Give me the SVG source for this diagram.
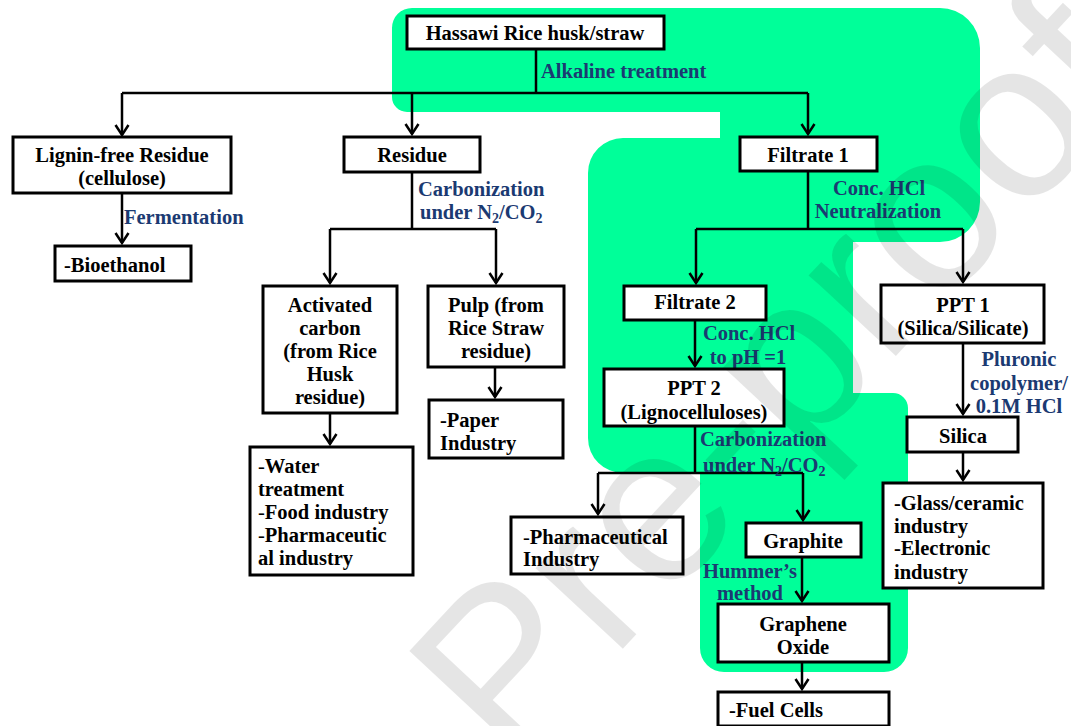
<svg xmlns="http://www.w3.org/2000/svg" width="1071" height="726" viewBox="0 0 1071 726">
<defs>
<style>
.box{fill:#fff;stroke:#000;stroke-width:3}
.t{font-family:'Liberation Serif','Times New Roman',Times,'DejaVu Serif',serif;font-weight:bold;font-size:20.5px;fill:#000}
.c{text-anchor:middle}
.lbl{fill:#1B3A72}
.ln{fill:none;stroke:#000;stroke-width:2.5}
.ar{marker-end:url(#ah)}
.n{font-weight:normal}
.wm{font-family:'Liberation Sans',Arial,sans-serif;font-size:225px;fill:#000;fill-opacity:0.1}
</style>
<marker id="ah" markerUnits="userSpaceOnUse" markerWidth="16" markerHeight="18" viewBox="-13 -9 16 18" refX="0" refY="0" orient="auto" overflow="visible">
<path d="M-10,-6.5 L0,0 L-10,6.5" fill="none" stroke="#000" stroke-width="2.5"/>
</marker>
</defs>

<path id="highlight" fill="#00FF99" d="M412,8 H940 A40,40 0 0 1 980,48 V202 A40,40 0 0 1 940,242 H853 V393 H893 A15,15 0 0 1 908,408 V648 A24,24 0 0 1 884,672 H724 A24,24 0 0 1 700,648 V473 H623 A35,35 0 0 1 588,438 V173 A35,35 0 0 1 623,138 H720 V112 H407 A15,15 0 0 1 392,97 V28 A20,20 0 0 1 412,8 Z"/>

<g id="connectors">
<path class="ln" d="M536,49 V93 M122,93 H808"/>
<path class="ln ar" d="M122,93 V135"/>
<path class="ln ar" d="M412,93 V134"/>
<path class="ln ar" d="M808,93 V134"/>
<path class="ln ar" d="M122,193 V243"/>
<path class="ln" d="M412,172 V229 M330,229 H496"/>
<path class="ln ar" d="M330,229 V283"/>
<path class="ln ar" d="M496,229 V283"/>
<path class="ln ar" d="M330,413 V444"/>
<path class="ln ar" d="M495,367 V397"/>
<path class="ln" d="M808,171 V229 M696,229 H963"/>
<path class="ln ar" d="M696,229 V283"/>
<path class="ln ar" d="M963,229 V282"/>
<path class="ln ar" d="M695,320 V366"/>
<path class="ln" d="M695,426 V473 M598,473 H803"/>
<path class="ln ar" d="M598,473 V514"/>
<path class="ln ar" d="M803,473 V520"/>
<path class="ln ar" d="M963,343 V414"/>
<path class="ln ar" d="M963,452 V480"/>
<path class="ln ar" d="M802,557 V601"/>
<path class="ln ar" d="M802,662 V689"/>
</g>

<g id="labels">
<text class="t lbl" x="541" y="78">Alkaline treatment</text>
<text class="t lbl" x="124" y="224">Fermentation</text>
<text class="t lbl" x="418" y="196">Carbonization</text>
<text class="t lbl" x="420" y="219">under N<tspan font-size="14" dy="4">2</tspan><tspan dy="-4">/CO</tspan><tspan font-size="14" dy="4">2</tspan></text>
<text class="t lbl c" x="879" y="195">Conc. HCl</text>
<text class="t lbl c" x="878" y="218">Neutralization</text>
<text class="t lbl c" x="749" y="340">Conc. HCl</text>
<text class="t lbl c" x="748" y="364">to pH =1</text>
<text class="t lbl" x="700" y="446">Carbonization</text>
<text class="t lbl" x="703" y="472">under N<tspan font-size="14" dy="4">2</tspan><tspan dy="-4">/CO</tspan><tspan font-size="14" dy="4">2</tspan></text>
<text class="t lbl c" x="1019" y="366">Pluronic</text>
<text class="t lbl c" x="1019" y="390">copolymer/</text>
<text class="t lbl c" x="1019" y="413">0.1M HCl</text>
<text class="t lbl c" x="750" y="578">Hummer’s</text>
<text class="t lbl c" x="750" y="600">method</text>
</g>

<g id="n-hassawi"><rect class="box" x="407" y="16" width="257" height="33"/><text class="t c" x="535" y="40">Hassawi Rice husk/straw</text></g>
<g id="n-lignin"><rect class="box" x="13" y="137" width="218" height="56"/><text class="t c" x="122" y="162">Lignin-free Residue</text><text class="t c" x="122" y="185">(cellulose)</text></g>
<g id="n-bioethanol"><rect class="box" x="55" y="246" width="136" height="35"/><text class="t" x="64" y="272">-Bioethanol</text></g>
<g id="n-residue"><rect class="box" x="344" y="137" width="136" height="35"/><text class="t c" x="412" y="162">Residue</text></g>
<g id="n-activated"><rect class="box" x="263" y="286" width="134" height="127"/>
<text class="t c" x="330" y="312">Activated</text><text class="t c" x="330" y="335">carbon</text><text class="t c" x="330" y="358">(from Rice</text><text class="t c" x="330" y="381">Husk</text><text class="t c" x="330" y="404">residue)</text></g>
<g id="n-pulp"><rect class="box" x="428" y="286" width="136" height="81"/>
<text class="t c" x="496" y="312">Pulp (from</text><text class="t c" x="496" y="335">Rice Straw</text><text class="t c" x="496" y="358">residue)</text></g>
<g id="n-paper"><rect class="box" x="429" y="400" width="134" height="58"/><text class="t" x="440" y="427">-Paper</text><text class="t" x="440" y="450">Industry</text></g>
<g id="n-water"><rect class="box" x="250" y="447" width="163" height="128"/>
<text class="t" x="258" y="473"><tspan class="n">-</tspan>Water</text><text class="t" x="258" y="496">treatment</text><text class="t" x="258" y="519"><tspan class="n">-</tspan>Food industry</text><text class="t" x="258" y="542"><tspan class="n">-</tspan>Pharmaceutic</text><text class="t" x="258" y="565">al industry</text></g>
<g id="n-filtrate1"><rect class="box" x="740" y="137" width="137" height="34"/><text class="t c" x="808" y="162">Filtrate 1</text></g>
<g id="n-filtrate2"><rect class="box" x="624" y="286" width="142" height="34"/><text class="t c" x="695" y="309">Filtrate 2</text></g>
<g id="n-ppt1"><rect class="box" x="881" y="285" width="163" height="58"/><text class="t c" x="963" y="312">PPT 1</text><text class="t c" x="963" y="335">(Silica/Silicate)</text></g>
<g id="n-ppt2"><rect class="box" x="604" y="369" width="180" height="57"/><text class="t c" x="694" y="395">PPT 2</text><text class="t c" x="694" y="419">(Lignocelluloses)</text></g>
<g id="n-silica"><rect class="box" x="907" y="417" width="111" height="35"/><text class="t c" x="963" y="443">Silica</text></g>
<g id="n-glass"><rect class="box" x="883" y="483" width="160" height="105"/>
<text class="t" x="894" y="510">-Glass/ceramic</text><text class="t" x="894" y="533">industry</text><text class="t" x="894" y="555">-Electronic</text><text class="t" x="894" y="579">industry</text></g>
<g id="n-pharma"><rect class="box" x="511" y="517" width="172" height="57"/><text class="t" x="523" y="544"><tspan class="n">-</tspan>Pharmaceutical</text><text class="t" x="523" y="566">Industry</text></g>
<g id="n-graphite"><rect class="box" x="746" y="523" width="115" height="34"/><text class="t c" x="803" y="548">Graphite</text></g>
<g id="n-graphene"><rect class="box" x="718" y="604" width="171" height="58"/><text class="t c" x="803" y="631">Graphene</text><text class="t c" x="803" y="654">Oxide</text></g>
<g id="n-fuel"><rect class="box" x="718" y="692" width="171" height="34"/><text class="t" x="729" y="717">-Fuel Cells</text></g>

<text class="wm" transform="translate(510,770) rotate(-47)" x="0" y="0">Pre-proof</text>
</svg>
